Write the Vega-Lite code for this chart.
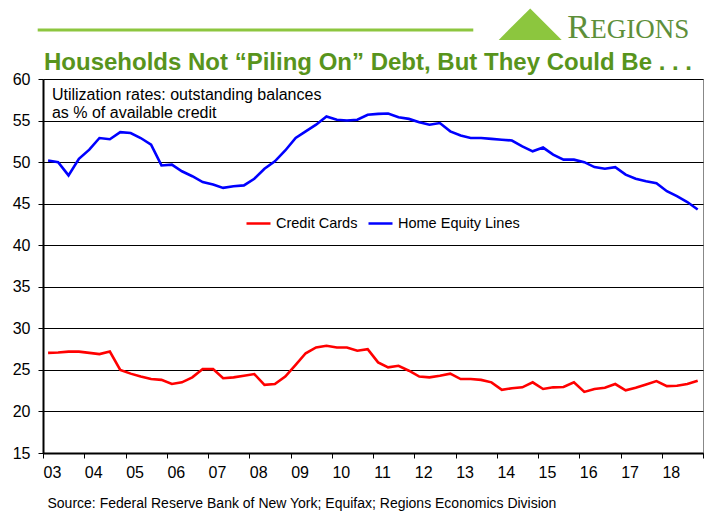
{
  "$schema": "https://vega.github.io/schema/vega-lite/v6.json",
  "width": 660,
  "height": 374,
  "autosize": {"type": "none"},
  "padding": {"left": 43, "top": 79, "right": 7, "bottom": 59},
  "background": "white",
  "config": {
    "font": "Liberation Sans",
    "view": {"stroke": "#888888", "strokeWidth": 1}
  },
  "data": {
    "values": [
      {"date": "2003-02-15", "Credit Cards": 27.05, "Home Equity Lines": 50.2},
      {"date": "2003-05-15", "Credit Cards": 27.1, "Home Equity Lines": 50.0},
      {"date": "2003-08-15", "Credit Cards": 27.2, "Home Equity Lines": 48.4},
      {"date": "2003-11-15", "Credit Cards": 27.2, "Home Equity Lines": 50.4},
      {"date": "2004-02-15", "Credit Cards": 27.05, "Home Equity Lines": 51.5},
      {"date": "2004-05-15", "Credit Cards": 26.9, "Home Equity Lines": 52.9},
      {"date": "2004-08-15", "Credit Cards": 27.2, "Home Equity Lines": 52.75},
      {"date": "2004-11-15", "Credit Cards": 25.0, "Home Equity Lines": 53.6},
      {"date": "2005-02-15", "Credit Cards": 24.55, "Home Equity Lines": 53.5},
      {"date": "2005-05-15", "Credit Cards": 24.2, "Home Equity Lines": 52.9},
      {"date": "2005-08-15", "Credit Cards": 23.9, "Home Equity Lines": 52.1},
      {"date": "2005-11-15", "Credit Cards": 23.8, "Home Equity Lines": 49.6},
      {"date": "2006-02-15", "Credit Cards": 23.3, "Home Equity Lines": 49.7},
      {"date": "2006-05-15", "Credit Cards": 23.5, "Home Equity Lines": 48.9},
      {"date": "2006-08-15", "Credit Cards": 24.1, "Home Equity Lines": 48.3},
      {"date": "2006-11-15", "Credit Cards": 25.1, "Home Equity Lines": 47.6},
      {"date": "2007-02-15", "Credit Cards": 25.1, "Home Equity Lines": 47.3},
      {"date": "2007-05-15", "Credit Cards": 24.0, "Home Equity Lines": 46.9},
      {"date": "2007-08-15", "Credit Cards": 24.1, "Home Equity Lines": 47.1},
      {"date": "2007-11-15", "Credit Cards": 24.3, "Home Equity Lines": 47.2},
      {"date": "2008-02-15", "Credit Cards": 24.5, "Home Equity Lines": 48.0},
      {"date": "2008-05-15", "Credit Cards": 23.2, "Home Equity Lines": 49.2},
      {"date": "2008-08-15", "Credit Cards": 23.3, "Home Equity Lines": 50.1},
      {"date": "2008-11-15", "Credit Cards": 24.2, "Home Equity Lines": 51.4},
      {"date": "2009-02-15", "Credit Cards": 25.6, "Home Equity Lines": 52.9},
      {"date": "2009-05-15", "Credit Cards": 27.0, "Home Equity Lines": 53.7},
      {"date": "2009-08-15", "Credit Cards": 27.7, "Home Equity Lines": 54.5},
      {"date": "2009-11-15", "Credit Cards": 27.9, "Home Equity Lines": 55.5},
      {"date": "2010-02-15", "Credit Cards": 27.7, "Home Equity Lines": 55.1},
      {"date": "2010-05-15", "Credit Cards": 27.7, "Home Equity Lines": 55.0},
      {"date": "2010-08-15", "Credit Cards": 27.3, "Home Equity Lines": 55.1},
      {"date": "2010-11-15", "Credit Cards": 27.5, "Home Equity Lines": 55.7},
      {"date": "2011-02-15", "Credit Cards": 25.9, "Home Equity Lines": 55.8},
      {"date": "2011-05-15", "Credit Cards": 25.3, "Home Equity Lines": 55.85},
      {"date": "2011-08-15", "Credit Cards": 25.5, "Home Equity Lines": 55.4},
      {"date": "2011-11-15", "Credit Cards": 24.9, "Home Equity Lines": 55.2},
      {"date": "2012-02-15", "Credit Cards": 24.2, "Home Equity Lines": 54.8},
      {"date": "2012-05-15", "Credit Cards": 24.1, "Home Equity Lines": 54.5},
      {"date": "2012-08-15", "Credit Cards": 24.3, "Home Equity Lines": 54.7},
      {"date": "2012-11-15", "Credit Cards": 24.55, "Home Equity Lines": 53.7},
      {"date": "2013-02-15", "Credit Cards": 23.9, "Home Equity Lines": 53.2},
      {"date": "2013-05-15", "Credit Cards": 23.9, "Home Equity Lines": 52.9},
      {"date": "2013-08-15", "Credit Cards": 23.8, "Home Equity Lines": 52.9},
      {"date": "2013-11-15", "Credit Cards": 23.5, "Home Equity Lines": 52.8},
      {"date": "2014-02-15", "Credit Cards": 22.6, "Home Equity Lines": 52.7},
      {"date": "2014-05-15", "Credit Cards": 22.8, "Home Equity Lines": 52.6},
      {"date": "2014-08-15", "Credit Cards": 22.9, "Home Equity Lines": 51.9},
      {"date": "2014-11-15", "Credit Cards": 23.5, "Home Equity Lines": 51.3},
      {"date": "2015-02-15", "Credit Cards": 22.7, "Home Equity Lines": 51.75},
      {"date": "2015-05-15", "Credit Cards": 22.9, "Home Equity Lines": 50.9},
      {"date": "2015-08-15", "Credit Cards": 22.95, "Home Equity Lines": 50.3},
      {"date": "2015-11-15", "Credit Cards": 23.5, "Home Equity Lines": 50.3},
      {"date": "2016-02-15", "Credit Cards": 22.35, "Home Equity Lines": 50.0},
      {"date": "2016-05-15", "Credit Cards": 22.7, "Home Equity Lines": 49.4},
      {"date": "2016-08-15", "Credit Cards": 22.85, "Home Equity Lines": 49.2},
      {"date": "2016-11-15", "Credit Cards": 23.3, "Home Equity Lines": 49.4},
      {"date": "2017-02-15", "Credit Cards": 22.55, "Home Equity Lines": 48.5},
      {"date": "2017-05-15", "Credit Cards": 22.85, "Home Equity Lines": 48.0},
      {"date": "2017-08-15", "Credit Cards": 23.25, "Home Equity Lines": 47.7},
      {"date": "2017-11-15", "Credit Cards": 23.65, "Home Equity Lines": 47.45},
      {"date": "2018-02-15", "Credit Cards": 23.05, "Home Equity Lines": 46.5},
      {"date": "2018-05-15", "Credit Cards": 23.1, "Home Equity Lines": 45.9},
      {"date": "2018-08-15", "Credit Cards": 23.3, "Home Equity Lines": 45.2},
      {"date": "2018-11-15", "Credit Cards": 23.7, "Home Equity Lines": 44.3}
    ]
  },
  "layer": [
    {
      "transform": [{"fold": ["Credit Cards", "Home Equity Lines"], "as": ["series", "rate"]}],
      "mark": {"type": "line", "strokeWidth": 2.6},
      "encoding": {
        "x": {
          "field": "date",
          "type": "temporal",
          "scale": {"domain": [{"year": 2003, "month": 1, "date": 1}, {"year": 2019, "month": 1, "date": 1}], "nice": false},
          "axis": {
            "title": "Source: Federal Reserve Bank of New York; Equifax; Regions Economics Division",
            "titleFont": "Liberation Sans",
            "titleFontSize": 14,
            "titleFontWeight": "normal",
            "titleColor": "black",
            "titleAnchor": "start",
            "titleAlign": "left",
            "titleBaseline": "alphabetic",
            "titleX": 4,
            "titleY": 54,
            "tickCount": {"interval": "year", "step": 1},
            "labelExpr": "year(datum.value) < 2019 ? timeFormat(datum.value, '%y') : ''",
            "labelFontSize": 16,
            "labelColor": "black",
            "labelOffset": 9,
            "labelPadding": 6,
            "labelFlush": false,
            "labelOverlap": false,
            "tickSize": 5,
            "tickColor": "black",
            "domainColor": "black",
            "domainWidth": 2,
            "grid": false
          }
        },
        "y": {
          "field": "rate",
          "type": "quantitative",
          "scale": {"domain": [15, 60], "nice": false, "zero": false},
          "axis": {
            "title": null,
            "values": [15, 20, 25, 30, 35, 40, 45, 50, 55, 60],
            "grid": true,
            "gridColor": "black",
            "gridWidth": 1,
            "labelFontSize": 16,
            "labelColor": "black",
            "labelPadding": 8,
            "tickSize": 5,
            "tickColor": "black",
            "domainColor": "black",
            "domainWidth": 2
          }
        },
        "color": {
          "field": "series",
          "type": "nominal",
          "scale": {"domain": ["Credit Cards", "Home Equity Lines"], "range": ["#ff0000", "#0000ff"]},
          "legend": {
            "title": null,
            "orient": "none",
            "legendX": 202,
            "legendY": 131,
            "direction": "horizontal",
            "symbolType": "stroke",
            "symbolSize": 576,
            "symbolStrokeWidth": 2.5,
            "labelFontSize": 14.5,
            "labelColor": "black",
            "labelOffset": 4,
            "columnPadding": 5
          }
        }
      }
    },
    {
      "data": {"values": [{"note": ["Utilization rates: outstanding balances", "as % of available credit"]}]},
      "mark": {"type": "text", "align": "left", "baseline": "top", "fontSize": 16, "lineHeight": 18, "color": "black"},
      "encoding": {
        "x": {"datum": {"year": 2003, "month": 3, "date": 21}, "type": "temporal"},
        "y": {"datum": 59.0, "type": "quantitative"},
        "text": {"field": "note"}
      }
    },
    {
      "data": {"values": [{"headline": "Households Not “Piling On” Debt, But They Could Be . . ."}]},
      "mark": {"type": "text", "align": "left", "baseline": "alphabetic", "fontSize": 24, "fontWeight": "bold", "color": "#58941c", "clip": false},
      "encoding": {
        "x": {"datum": {"year": 2003, "month": 1, "date": 10}, "type": "temporal"},
        "y": {"datum": 61.08, "type": "quantitative"},
        "text": {"field": "headline"}
      }
    },
    {
      "data": {"values": [{}]},
      "mark": {"type": "rule", "strokeWidth": 3, "color": "#8dc63f", "clip": false},
      "encoding": {
        "x": {"datum": {"year": 2002, "month": 11, "date": 15}, "type": "temporal"},
        "x2": {"datum": {"year": 2013, "month": 6, "date": 7}},
        "y": {"datum": 65.9, "type": "quantitative"}
      }
    },
    {
      "data": {"values": [{}]},
      "mark": {"type": "point", "shape": "M-1,0.5L0,-0.5L1,0.5Z", "filled": true, "opacity": 1, "color": "#8cc63e", "size": 3969, "clip": false},
      "encoding": {
        "x": {"datum": {"year": 2014, "month": 10, "date": 24}, "type": "temporal"},
        "y": {"datum": 66.6, "type": "quantitative"}
      }
    },
    {
      "data": {"values": [{"t": "R"}]},
      "mark": {"type": "text", "align": "left", "baseline": "alphabetic", "font": "Liberation Serif", "fontSize": 34, "color": "#5e8f3a", "clip": false},
      "encoding": {
        "x": {"datum": {"year": 2015, "month": 9, "date": 17}, "type": "temporal"},
        "y": {"datum": 64.94, "type": "quantitative"},
        "text": {"field": "t"}
      }
    },
    {
      "data": {"values": [{"t": "EGIONS"}]},
      "mark": {"type": "text", "align": "left", "baseline": "alphabetic", "font": "Liberation Serif", "fontSize": 27, "color": "#5e8f3a", "clip": false},
      "encoding": {
        "x": {"datum": {"year": 2016, "month": 4, "date": 8}, "type": "temporal"},
        "y": {"datum": 64.94, "type": "quantitative"},
        "text": {"field": "t"}
      }
    }
  ]
}
